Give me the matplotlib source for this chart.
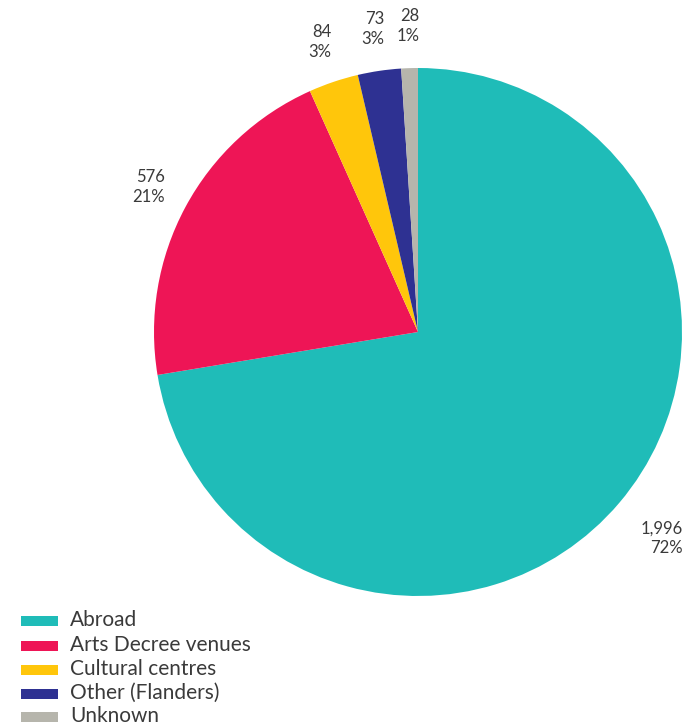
import numpy as np
import matplotlib
matplotlib.use('Agg')
import matplotlib.pyplot as plt
from matplotlib.patches import Rectangle

# venue categories and performance counts
categories = ['Abroad', 'Arts Decree venues', 'Cultural centres', 'Other (Flanders)', 'Unknown']
counts = [1996, 576, 84, 73, 28]
count_labels = ['1,996', '576', '84', '73', '28']
pct_labels = ['72%', '21%', '3%', '3%', '1%']
colors = ['#1fbcb8', '#ee1556', '#ffc60b', '#2e3192', '#b6b5ac']

plt.rcParams['font.family'] = ['Lato', 'DejaVu Sans']
text_color = '#3a3a3a'

W, H = 682, 727
fig = plt.figure(figsize=(W / 100, H / 100), dpi=100)

# pie axes: centre (418, 332) px, radius 264 px
cx, cy, r = 418, 332, 264
ax = fig.add_axes([(cx - r) / W, (H - cy - r) / H, 2 * r / W, 2 * r / H])
wedges, _ = ax.pie(counts, colors=colors, startangle=90, counterclock=False,
                   radius=1.0, wedgeprops=dict(linewidth=0))
ax.set_xlim(-1, 1)
ax.set_ylim(-1, 1)
ax.set_aspect('equal')
ax.axis('off')

# value labels outside each wedge
for w, c, p in zip(wedges, count_labels, pct_labels):
    ang = np.deg2rad((w.theta1 + w.theta2) / 2)
    d = 1.16 if np.cos(ang) < 0 else 1.21
    ax.text(d * np.cos(ang), d * np.sin(ang), c + '\n' + p, ha='center', va='center',
            multialignment='right', fontsize=12, color=text_color, linespacing=1.25,
            clip_on=False)

# legend drawn in pixel coordinates
lax = fig.add_axes([0, 0, 1, 1])
lax.set_xlim(0, W)
lax.set_ylim(H, 0)
lax.axis('off')
row_y = [620, 645, 669, 693, 716]
for y, col, name in zip(row_y, colors, categories):
    lax.add_patch(Rectangle((21, y - 4), 37, 10, facecolor=col, edgecolor='none'))
    lax.text(70, y, name, ha='left', va='center', fontsize=15, color=text_color)

fig.savefig('out.png', dpi=100)
